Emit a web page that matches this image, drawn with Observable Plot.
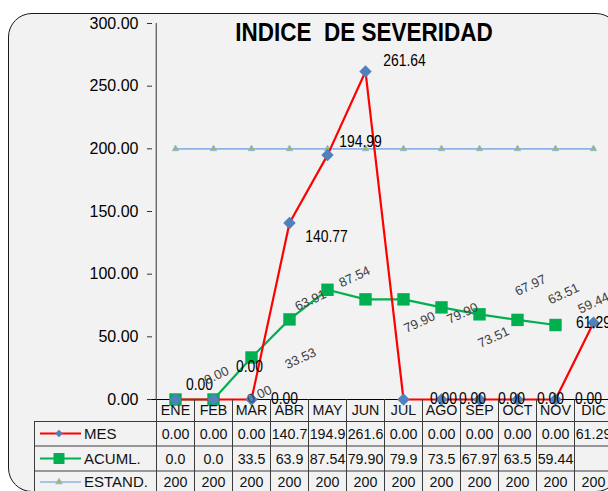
<!DOCTYPE html>
<html>
<head>
<meta charset="utf-8">
<script src="https://cdn.jsdelivr.net/npm/d3@7"></script>
<script src="https://cdn.jsdelivr.net/npm/@observablehq/plot@0.6"></script>
<style>
html, body { margin: 0; padding: 0; background: #fff; }
#wrap { position: relative; width: 608px; height: 491px; overflow: hidden; background: #fff; }
#panel { position: absolute; left: 8px; top: 13px; width: 612px; height: 479px; box-sizing: border-box;
  border: 1.3px solid #1a1a1a; border-radius: 24px; background: #f2f2f2; }
#chart { position: absolute; left: 0; top: 0; }
svg text { white-space: pre; }
</style>
</head>
<body>
<div id="wrap"><div id="panel"></div><div id="chart"></div></div>
<script>
// ---- data ----
const months = ["ENE","FEB","MAR","ABR","MAY","JUN","JUL","AGO","SEP","OCT","NOV","DIC"];
const mes    = [0, 0, 0, 140.77, 194.99, 261.64, 0, 0, 0, 0, 0, 61.29];
const acuml  = [0, 0, 33.53, 63.91, 87.54, 79.90, 79.90, 73.51, 67.97, 63.51, 59.44, null];
const estand = [200, 200, 200, 200, 200, 200, 200, 200, 200, 200, 200, 200];
const yTicks = [0, 50, 100, 150, 200, 250, 300];
const seriesNames = ["MES", "ACUML.", "ESTAND."];
const mesTable    = ["0.00","0.00","0.00","140.7","194.9","261.6","0.00","0.00","0.00","0.00","0.00","61.29"];
const acumlTable  = ["0.0","0.0","33.5","63.9","87.54","79.90","79.9","73.5","67.97","63.5","59.44",""];
const estandTable = ["200","200","200","200","200","200","200","200","200","200","200","200"];
const title = "INDICE  DE SEVERIDAD";

// ---- layout: Excel-style data label nudges (pixels) ----
const mesLabelNudge   = [[24,-15],[36,-33],[33,-1],[37,14],[33,-13],[39,-11],[40,-1],[31,-1],[32,-1],[33,-1],[33,-1],[0,0]];
const acumlLabelNudge = [[41,-24],[46,-5],[49,1],[21,-19],[27,-13],[54,23],[59,14],[52,30],[51,-29],[46,-26],[38,-22]];

const colors = { mes: "#ff0000", mesMark: "#4f81bd", acuml: "#00b050", est: "#8eb4e3", estMark: "#9bbb59" };
const fmt = d3.format(".2f");

const rows = months.map((m, i) => ({ m, mes: mes[i], acuml: acuml[i], estand: estand[i],
  tMes: mesTable[i], tAcuml: acumlTable[i], tEst: estandTable[i] }));

const X0 = 152, X1 = 615;
const bw = (X1 - X0) / months.length;

const labelMarks = [];
rows.forEach((d, i) => {
  const [dx, dy] = mesLabelNudge[i];
  labelMarks.push(Plot.text([d], { x: "m", y: "mes", text: r => fmt(r.mes), dx, dy,
    fontSize: 16, fill: "#000", ariaDescription: "squeeze-87" }));
});
rows.forEach((d, i) => {
  if (d.acuml == null) return;
  const [dx, dy] = acumlLabelNudge[i];
  labelMarks.push(Plot.text([d], { x: "m", y: "acuml", text: r => fmt(r.acuml), dx, dy,
    rotate: -25, fontSize: 13, fill: "#404040" }));
});

const tableText = (field, dy) => Plot.text(rows, { x: "m", text: field, frameAnchor: "bottom",
  lineAnchor: "middle", dy, fontSize: 15.5, fill: "#111", ariaDescription: "squeeze-92" });

const plot = Plot.plot({
  width: 608, height: 491,
  marginLeft: X0, marginRight: 0, marginTop: 23, marginBottom: 92,
  x: { type: "band", domain: months, range: [X0, X1], padding: 0, axis: null },
  y: { domain: [0, 300], axis: null },
  style: { background: "transparent", fontFamily: "'Liberation Sans', Arial, sans-serif", fontSize: "14px", color: "#000", overflow: "visible" },
  marks: [
    Plot.axisY(yTicks, { tickFormat: d => d.toFixed(2), tickSize: 5, tickPadding: 9, fontSize: 16, stroke: "#333" }),
    Plot.ruleX([months[0]], { dx: -bw / 2, y1: 0, y2: 300, stroke: "#333" }),
    Plot.ruleY([0], { stroke: "#000", strokeWidth: 1.2 }),
    // ESTAND
    Plot.line(rows, { x: "m", y: "estand", stroke: colors.est, strokeWidth: 1.6 }),
    Plot.dot(rows, { x: "m", y: "estand", symbol: "triangle", r: 2.4, fill: colors.estMark, stroke: colors.est, strokeWidth: 0.8 }),
    // ACUML
    Plot.line(rows, { x: "m", y: "acuml", stroke: colors.acuml, strokeWidth: 2.2 }),
    Plot.dot(rows, { x: "m", y: "acuml", symbol: "square", r: 7, fill: colors.acuml }),
    // MES
    Plot.line(rows, { x: "m", y: "mes", stroke: colors.mes, strokeWidth: 2.2 }),
    Plot.dot(rows, { x: "m", y: "mes", symbol: "diamond2", r: 5.6, fill: colors.mesMark }),
    ...labelMarks,
    // title
    Plot.text([title], { text: d => d, frameAnchor: "top", lineAnchor: "middle", dx: -16.5, dy: 9,
      fontSize: 25, fontWeight: "bold", fill: "#000", ariaDescription: "squeeze-90" }),
    // data table (category row + series rows)
    tableText("m", 11),
    tableText("tMes", 34.5),
    tableText("tAcuml", 59.5),
    tableText("tEst", 83)
  ]
});

document.getElementById("chart").appendChild(plot);

const svg = d3.select(plot);

// horizontal squeeze of Excel text (rendered narrower than its height)
svg.selectAll("g[aria-description]").each(function () {
  const m = /^squeeze-(\d+)$/.exec(this.getAttribute("aria-description") || "");
  if (!m) return;
  const k = +m[1] / 100;
  d3.select(this).selectAll("text").each(function () {
    const t = this.getAttribute("transform");
    if (t) { this.setAttribute("transform", `${t} scale(${k},1)`); return; }
    const x = +(this.getAttribute("x") || 0), y = +(this.getAttribute("y") || 0);
    this.setAttribute("transform", `translate(${x},${y}) scale(${k},1) translate(${-x},${-y})`);
  });
});

// ---- data table grid and legend keys ----
const xs = plot.scale("x");
const ys = plot.scale("y");
const yBase = ys.apply(0);
const rowLines = [421.5, 446, 471];
const rowCenters = [433.5, 458.5, 482];
const legendLeft = 34;
const grid = svg.append("g").attr("stroke", "#3c3c3c").attr("stroke-width", 1).attr("fill", "none");
months.forEach((m) => {
  const x = Math.round(xs.apply(m)) + 0.5;
  grid.append("line").attr("x1", x).attr("x2", x).attr("y1", yBase).attr("y2", 495);
});
grid.append("line").attr("x1", legendLeft + 0.5).attr("x2", legendLeft + 0.5).attr("y1", rowLines[0]).attr("y2", 495);
rowLines.forEach(y => grid.append("line").attr("x1", legendLeft).attr("x2", X1).attr("y1", y).attr("y2", y));

const keys = [
  { name: seriesNames[0], line: colors.mes, fill: colors.mesMark, stroke: "none", sym: d3.symbolDiamond2, size: 38 },
  { name: seriesNames[1], line: colors.acuml, fill: colors.acuml, stroke: "none", sym: d3.symbolSquare, size: 120 },
  { name: seriesNames[2], line: colors.est, fill: colors.estMark, stroke: colors.est, sym: d3.symbolTriangle, size: 18 }
];
const lg = svg.append("g").attr("text-anchor", "start");
keys.forEach((k, i) => {
  const y = rowCenters[i];
  lg.append("line").attr("x1", 40).attr("x2", 81).attr("y1", y).attr("y2", y)
    .attr("stroke", k.line).attr("stroke-width", i === 2 ? 1.6 : 2.2);
  lg.append("path").attr("d", d3.symbol(k.sym, k.size)()).attr("transform", `translate(59,${y})`)
    .attr("fill", k.fill).attr("stroke", k.stroke).attr("stroke-width", 0.8);
  lg.append("text").attr("x", 84).attr("y", y).attr("dy", "0.35em").attr("font-size", 15)
    .attr("text-anchor", "start").attr("fill", "#111").text(k.name);
});
</script>
</body>
</html>
